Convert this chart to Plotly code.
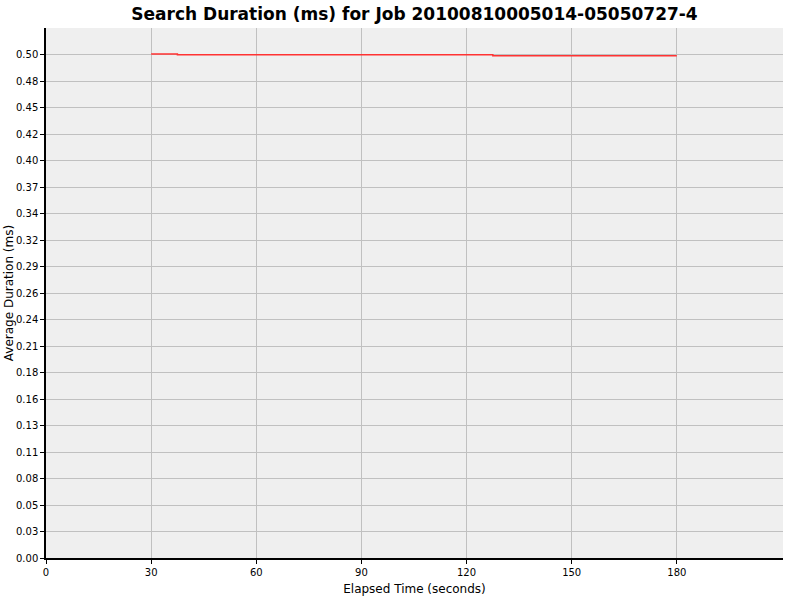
import plotly.graph_objects as go

# Data (step series)
elapsed = [30, 37.5, 127.5, 180]
avg_duration = [0.5021, 0.5013, 0.5003, 0.5003]

x_ticks = [0, 30, 60, 90, 120, 150, 180]
y_step = 0.0264
y_tick_vals = [i * y_step for i in range(20)]
y_tick_text = ["%.2f" % v for v in y_tick_vals]

fig = go.Figure()
fig.add_trace(go.Scatter(
    x=elapsed, y=avg_duration, mode="lines",
    line=dict(color="#FF3333", width=1.5, shape="hv"),
    showlegend=False, hoverinfo="x+y",
))

fig.update_layout(
    width=800, height=600,
    margin=dict(l=46, r=17, t=28, b=42),
    paper_bgcolor="white", plot_bgcolor="#EFEFEF",
    title=dict(text="<b>Search Duration (ms) for Job 20100810005014-05050727-4</b>",
               x=(46 + 783) / 2 / 800, xanchor="center", y=1 - 14 / 600, yanchor="middle",
               font=dict(family="DejaVu Sans", size=17, color="black")),
    font=dict(family="DejaVu Sans", size=10, color="black"),
)
fig.update_xaxes(
    range=[0, 210.3], tickvals=x_ticks, ticktext=[str(t) for t in x_ticks],
    showgrid=True, gridcolor="#C0C0C0", gridwidth=1,
    showline=True, linecolor="black", linewidth=1.5,
    ticks="outside", ticklen=4, tickcolor="black", zeroline=False,
    automargin=False,
    title=dict(text="Elapsed Time (seconds)", font=dict(size=12), standoff=8),
    tickfont=dict(size=10),
)
fig.update_yaxes(
    range=[0, 20 * y_step], tickvals=y_tick_vals, ticktext=y_tick_text,
    showgrid=True, gridcolor="#C0C0C0", gridwidth=1,
    showline=True, linecolor="black", linewidth=1.5,
    ticks="outside", ticklen=4, tickcolor="black", zeroline=False,
    automargin=False,
    title=dict(text="Average Duration (ms)", font=dict(size=12), standoff=0),
    tickfont=dict(size=10),
)

fig.write_html("out.html", config={"displayModeBar": False},
               post_script="document.body.style.margin='0';")
